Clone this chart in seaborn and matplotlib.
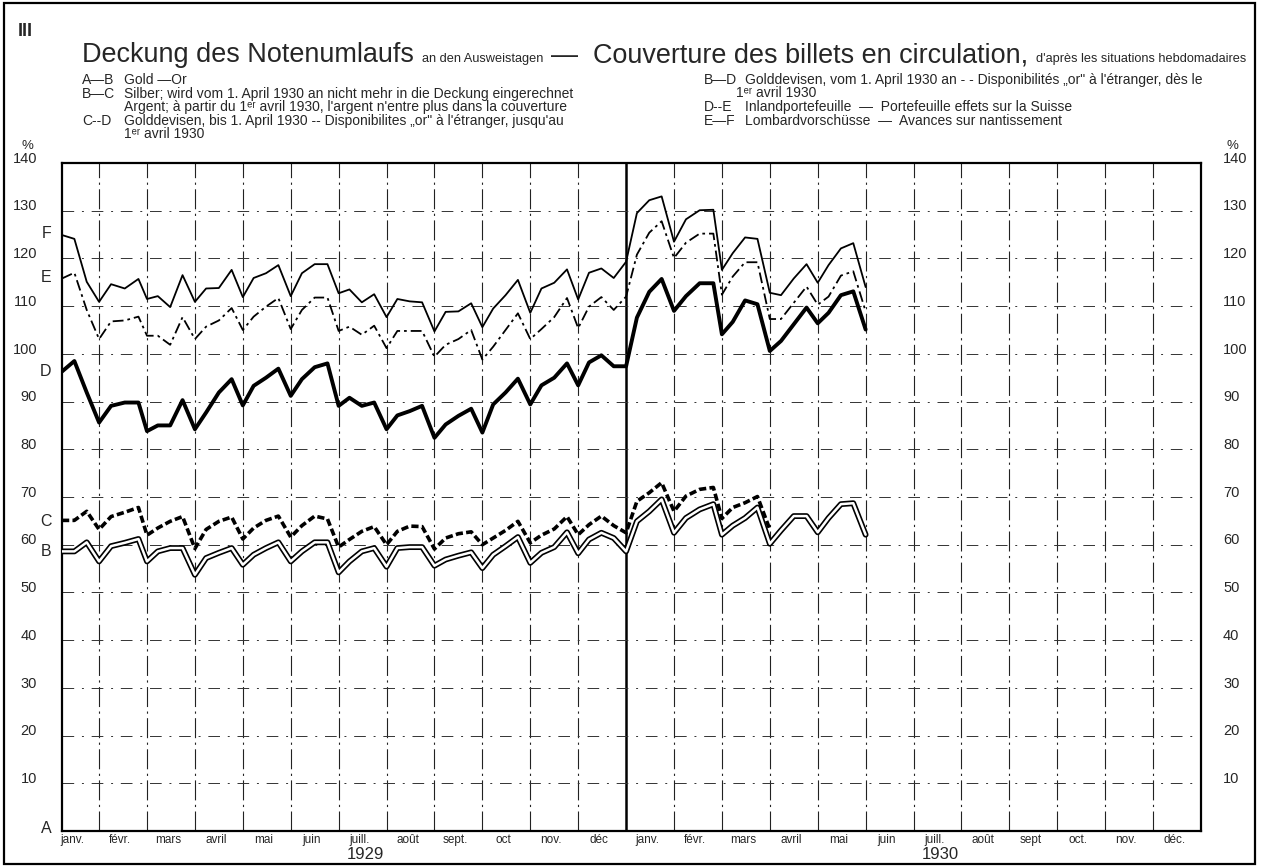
import calendar
import numpy as np
import pandas as pd
import matplotlib
matplotlib.use("Agg")
import matplotlib.pyplot as plt
import matplotlib.transforms as mtransforms
from matplotlib.patches import Rectangle
import seaborn as sns

# ---------------- data ----------------
months_1929 = ['janv.', 'févr.', 'mars', 'avril', 'mai', 'juin', 'juill.', 'août', 'sept.', 'oct', 'nov.', 'déc']
months_1930 = ['janv.', 'févr.', 'mars', 'avril', 'mai', 'juin', 'juill.', 'août', 'sept', 'oct.', 'nov.', 'déc.']
year_labels = ['1929', '1930']
ytick_values = [10, 20, 30, 40, 50, 60, 70, 80, 90, 100, 110, 120, 130, 140]
statement_days = [7, 15, 23]          # plus the last day of each month
data_years_months = [(1929, m) for m in range(1, 13)] + [(1930, m) for m in range(1, 6)]

# A-B Gold
gold_B = [58.6, 58.6, 60.5, 56.5, 59.7, 60.4, 61.2, 56.5, 58.6, 59.3, 59.3, 53.7,
          57.2, 58.3, 59.3, 55.8, 57.9, 59.3, 60.5, 56.5, 58.6, 60.5, 60.5, 54.2,
          56.5, 58.6, 59.3, 55.4, 59.3, 59.5, 59.5, 55.6, 56.9, 57.7, 58.4, 55.1,
          57.9, 59.7, 61.6, 56.2, 58.3, 59.5, 62.6, 58.2, 61.1, 62.5, 61.4, 58.6,
          64.9, 67.0, 69.5, 62.5, 65.6, 67.4, 68.5, 62.1, 64.0, 65.6, 67.8, 60.2,
          63.0, 66.0, 66.0, 62.6, 65.6, 68.5, 68.7, 62.1]
# B-C Silver (cumulative line C), until 31 March 1930
silver_C = [65.1, 65.1, 67.0, 63.2, 65.9, 66.8, 67.8, 62.0, 63.5, 64.9, 65.9, 59.2,
            63.2, 64.9, 65.8, 61.2, 63.5, 65.1, 66.0, 61.6, 64.0, 66.0, 65.4, 59.5,
            61.1, 62.8, 63.8, 60.0, 62.8, 63.9, 63.8, 59.1, 61.4, 62.3, 62.7, 60.0,
            61.4, 63.0, 64.9, 60.4, 62.0, 63.3, 65.9, 62.1, 64.2, 66.0, 64.0, 62.5,
            69.1, 70.9, 73.0, 67.0, 70.2, 71.6, 72.0, 65.5, 67.8, 68.8, 70.1, 63.2]
# C-D / B-D Golddevisen (cumulative line D)
devisen_D = [96.3, 98.5, 91.9, 85.6, 89.1, 89.8, 89.8, 83.8, 85.0, 85.0, 90.3, 84.2,
             87.7, 91.9, 94.7, 89.2, 93.3, 95.0, 96.9, 91.2, 94.7, 97.2, 98.0, 89.1,
             90.8, 89.1, 89.8, 84.2, 87.1, 88.0, 89.1, 82.4, 85.2, 87.0, 88.5, 83.5,
             89.4, 91.9, 94.8, 89.4, 93.4, 95.0, 98.0, 93.4, 98.2, 99.7, 97.4, 97.4,
             107.6, 113.0, 115.7, 109.0, 112.1, 114.8, 114.8, 104.1, 106.7, 111.2, 110.4, 100.6,
             102.7, 106.2, 109.7, 106.4, 108.6, 112.3, 113.1, 105.1]
# D-E Inlandportefeuille (cumulative line E)
inland_E = [115.8, 117.0, 109.2, 103.1, 106.8, 107.0, 107.8, 103.8, 103.8, 101.9, 107.7, 103.1,
            105.7, 107.0, 109.6, 105.0, 107.8, 109.9, 111.7, 105.2, 109.2, 111.8, 111.8, 104.8,
            105.7, 104.0, 105.9, 101.2, 104.8, 104.8, 104.8, 99.4, 101.9, 103.1, 105.0, 98.8,
            101.5, 105.0, 108.5, 103.1, 105.2, 107.7, 111.7, 105.4, 109.9, 111.9, 109.2, 112.0,
            120.8, 125.4, 127.8, 120.1, 123.3, 125.2, 125.2, 112.4, 116.2, 119.2, 119.2, 107.3,
            107.3, 110.7, 114.1, 110.3, 112.0, 116.4, 117.3, 108.9]
# E-F Lombardvorschüsse (cumulative line F)
lombard_F = [124.9, 124.1, 115.1, 110.9, 114.6, 113.7, 115.7, 111.5, 112.1, 109.8, 116.5, 110.9,
             113.7, 113.8, 117.6, 111.9, 115.9, 116.9, 118.6, 112.1, 116.9, 118.8, 118.8, 112.7,
             113.5, 110.8, 112.5, 107.7, 111.5, 111.0, 110.8, 104.7, 108.8, 108.9, 110.6, 105.6,
             109.5, 112.3, 115.5, 108.6, 113.7, 114.9, 117.7, 111.4, 117.0, 117.9, 115.9, 119.3,
             129.5, 132.2, 133.0, 123.5, 128.2, 130.1, 130.2, 117.6, 121.1, 124.4, 124.1, 112.8,
             112.3, 115.8, 118.8, 114.9, 118.6, 122.1, 123.2, 114.0]

# ------------- positions (month units, Jan 1929 = 0) -------------
xpos = []
for (yr, mo) in data_years_months:
    ndays = calendar.monthrange(yr, mo)[1]
    for d in statement_days + [ndays]:
        xpos.append((yr - 1929) * 12 + (mo - 1) + d / ndays)
xpos = np.array(xpos)

dfB = pd.DataFrame({'x': xpos, 'v': gold_B})
dfC = pd.DataFrame({'x': xpos[:len(silver_C)], 'v': silver_C})
dfD = pd.DataFrame({'x': xpos, 'v': devisen_D})
dfE = pd.DataFrame({'x': xpos, 'v': inland_E})
dfF = pd.DataFrame({'x': xpos, 'v': lombard_F})

# ---------------- figure ----------------
sns.set_theme(style="white")
FONT = ['Liberation Sans', 'DejaVu Sans']
plt.rcParams['font.family'] = FONT
plt.rcParams['axes.edgecolor'] = 'black'

W, H = 1262, 866
fig = plt.figure(figsize=(W / 100, H / 100), dpi=100)
fig.patch.set_facecolor('white')

L, R, T, B = 62, 1201, 163, 831
ax = fig.add_axes([L / W, 1 - B / H, (R - L) / W, (B - T) / H])
ax.set_xlim(7 / 31, 24)
ax.set_ylim(0, 140)

# grid
for m in range(1, 24):
    if m == 12:
        ax.axvline(m, color='black', lw=1.8, zorder=1)
    else:
        ax.axvline(m, color='#222222', lw=0.8, dashes=(18, 4, 2, 4), zorder=1)
for v in ytick_values[:-1]:
    ax.axhline(v, color='#333333', lw=0.7, dashes=(12, 8, 2, 8), zorder=1)

# lines
def draw(df, **kw):
    sns.lineplot(data=df, x='x', y='v', ax=ax, estimator=None, sort=False,
                 legend=False, color='black', **kw)
    return ax.lines[-1]

draw(dfF, lw=1.3, zorder=4)
lE = draw(dfE, lw=1.3, zorder=4)
lE.set_dashes((6, 2.2, 1.5, 2.2))
draw(dfD, lw=2.8, zorder=4)
lC = draw(dfC, lw=2.6, zorder=4)
lC.set_dashes((2.0, 0.9))
draw(dfB, lw=4.2, zorder=5)
lBw = draw(dfB, lw=1.8, zorder=6)
lBw.set_color('white')

for s in ax.spines.values():
    s.set_visible(True)
    s.set_color('black')
    s.set_linewidth(1.6)

ax.set_xlabel('')
ax.set_ylabel('')
ax.set_xticks([])
ax.set_yticks([])

# y tick labels (both sides), sitting slightly above their grid lines
blend = mtransforms.blended_transform_factory(ax.transAxes, ax.transData)
xl = (37 - L) / (R - L)
xr = (1223 - L) / (R - L)
for v in ytick_values:
    ax.text(xl, v + 0.9, str(v), transform=blend, ha='right', va='center', fontsize=10.5)
    ax.text(xr, v + 0.9, str(v), transform=blend, ha='left', va='center', fontsize=10.5)

# letters A-F at left
for lab, val in [('F', 125.3), ('E', 116.0), ('D', 96.4), ('C', 64.8), ('B', 58.5), ('A', 0.5)]:
    ax.text(-0.009, val, lab, transform=blend, ha='right', va='center', fontsize=11.5)

# month labels
blendx = mtransforms.blended_transform_factory(ax.transData, ax.transAxes)
ym = -3 / (B - T)
for i, lab in enumerate(months_1929):
    ax.text(i + 0.44, ym, lab, transform=blendx, ha='center', va='top', fontsize=8.5)
for i, lab in enumerate(months_1930):
    ax.text(12 + i + 0.44, ym, lab, transform=blendx, ha='center', va='top', fontsize=8.5)
yy = -16 / (B - T)
ax.text(6.55, yy, year_labels[0], transform=blendx, ha='center', va='top', fontsize=12)
ax.text(18.55, yy, year_labels[1], transform=blendx, ha='center', va='top', fontsize=12)

# % signs
fig.text(27 / W, 1 - 146 / H, '%', ha='center', va='center', fontsize=9.5)
fig.text(1232 / W, 1 - 146 / H, '%', ha='center', va='center', fontsize=9.5)

# outer frame
fig.add_artist(Rectangle((4 / W, 2 / H), 1251 / W, 861 / H, transform=fig.transFigure,
                         fill=False, lw=1.6, edgecolor='black'))

# "III"
fig.text(18 / W, 1 - 31 / H, 'III', ha='left', va='center', fontsize=13, fontweight='bold')

# title (pieces of different sizes on one baseline, fitted to width)
fig.canvas.draw()
rend = fig.canvas.get_renderer()
pieces = [('Deckung des Notenumlaufs', 16.5), ('an den Ausweistagen', 7.8),
          ('—  Couverture des billets en circulation,', 16.5),
          ("d'après les situations hebdomadaires", 7.8)]
gap = 8
x0, x1, ybase = 82, 1250, 62

def place(scale):
    arts = []
    x = x0
    for txt, fs in pieces:
        t = fig.text(x / W, 1 - ybase / H, txt, fontsize=fs * scale, ha='left', va='baseline')
        bb = t.get_window_extent(rend)
        x = bb.x1 + gap
        arts.append(t)
    return arts, x - gap

arts, xend = place(1.0)
scale = (x1 - x0 - gap * 3) / (xend - x0 - gap * 3)
for a in arts:
    a.remove()
place(scale)

# legend text
lfs = 10.0
ER = "1ᵉʳ"

def entry(xc, xd, y, code, desc):
    if code:
        fig.text(xc / W, 1 - y / H, code, fontsize=lfs, va='center', ha='left')
    fig.text(xd / W, 1 - y / H, desc, fontsize=lfs, va='center', ha='left',
             family=FONT)

entry(82, 124, 80, 'A—B', 'Gold —Or')
entry(82, 124, 94, 'B—C', 'Silber; wird vom 1. April 1930 an nicht mehr in die Deckung eingerechnet')
entry(82, 124, 107, None, "Argent; à partir du " + ER + " avril 1930, l'argent n'entre plus dans la couverture")
entry(82, 124, 121, 'C--D', 'Golddevisen, bis 1. April 1930 -- Disponibilites „or" à l\'étranger, jusqu\'au')
entry(82, 124, 134, None, ER + " avril 1930")

entry(704, 745, 80, 'B—D', 'Golddevisen, vom 1. April 1930 an - - Disponibilités „or" à l\'étranger, dès le')
entry(704, 736, 93, None, ER + " avril 1930")
entry(704, 745, 107, 'D--E', 'Inlandportefeuille  —  Portefeuille effets sur la Suisse')
entry(704, 745, 121, 'E—F', 'Lombardvorschüsse  —  Avances sur nantissement')

fig.savefig('out.png', dpi=100, facecolor='white')
